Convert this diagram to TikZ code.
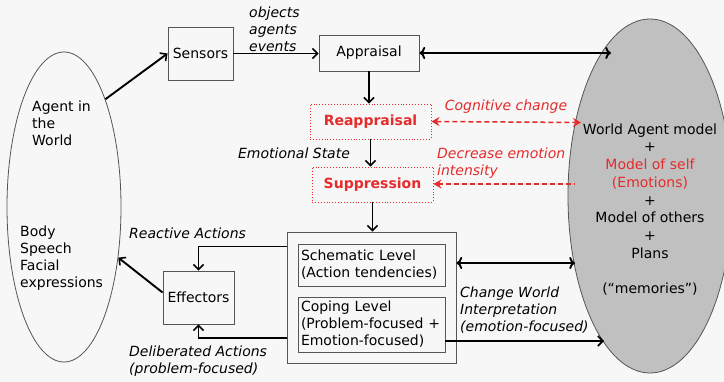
\documentclass[tikz,border=0pt]{standalone}
\usepackage{fontspec}
\setmainfont{DejaVu Sans}
\usepackage{xcolor}
\usetikzlibrary{arrows.meta,positioning,shapes.geometric}
\definecolor{emred}{HTML}{E52B2B}
\definecolor{emgray}{HTML}{C0C0C0}
\definecolor{emline}{HTML}{555555}
\definecolor{embg}{HTML}{F7F7F7}
\tikzset{
  txt/.style={font=\fontsize{14}{17}\selectfont,inner sep=0pt,align=left},
  lbl/.style={txt,font=\fontsize{14}{17}\selectfont\itshape},
  box/.style={txt,draw=emline,line width=0.9pt,align=center},
  redbox/.style={box,draw=emred,dotted,text=emred,font=\fontsize{14}{17}\selectfont\bfseries},
  ar/.style={-{Straight Barb[length=5pt,width=10pt,line width=1.6pt]},line width=1.9pt,draw=black},
  dar/.style={ar,<->},
  redar/.style={{Stealth[length=8pt,width=9pt]}-{Stealth[length=8pt,width=9pt]},draw=emred,line width=1.5pt,dashed,dash pattern=on 5pt off 3pt},
}
\begin{document}
\begin{tikzpicture}[x=1pt,y=-1pt]
  \clip (0,0) rectangle (724,382);
  \fill[embg] (0,0) rectangle (724,382);
  % the two ellipses
  \node[ellipse,draw=emline,line width=0.8pt,minimum width=114,minimum height=310,inner sep=0pt] (world) at (64,207) {};
  \node[ellipse,draw=emline,fill=emgray,line width=0.8pt,minimum width=164,minimum height=354,inner sep=0pt] (memory) at (650,196) {};
  \node[txt,anchor=west] (agent) at (32,123) {Agent in\\the\\World};
  \node[txt,anchor=west] (body) at (20,258) {Body\\Speech\\Facial\\expressions};
  \node[txt,align=center,font=\fontsize{14}{17.7}\selectfont] (models) at (650,209.5) {World Agent model\\+\\\textcolor{emred}{Model of self}\\\textcolor{emred}{(Emotions)}\\+\\Model of others\\+\\Plans\\ \\(“memories”)};
  % boxes
  \node[box,minimum width=65,minimum height=53] (sensors) at (200.5,53.5) {Sensors};
  \node[box,minimum width=100,minimum height=36] (appraisal) at (369,53) {Appraisal};
  \node[redbox,minimum width=121,minimum height=35] (reappraisal) at (370.5,121.5) {Reappraisal};
  \node[redbox,minimum width=121,minimum height=35] (suppression) at (372.5,184.5) {Suppression};
  \node[box,minimum width=169,minimum height=131] (levels) at (371.5,297.5) {};
  \node[box,align=left,text width=141,minimum width=147,minimum height=42,inner xsep=3pt] (schematic) at (371.5,265) {Schematic Level\\(Action tendencies)};
  \node[box,align=left,text width=141,minimum width=147,minimum height=55,inner xsep=3pt] (coping) at (371.5,324.5) {Coping Level\\(Problem-focused +\\Emotion-focused)};
  \node[box,minimum width=71,minimum height=53] (effectors) at (198.5,297.5) {Effectors};
  % labels
  \node[lbl,anchor=west] (stimuli) at (249,29) {objects\\agents\\events};
  \node[lbl] (emostate) at (294,153) {Emotional State};
  \node[lbl,text=emred] (cogchange) at (506,107) {Cognitive change};
  \node[lbl,text=emred,anchor=west] (decrease) at (437,163.5) {Decrease emotion\\intensity};
  \node[lbl,anchor=west] (reactive) at (129,233) {Reactive Actions};
  \node[lbl,anchor=west] (deliberated) at (129,361.5) {Deliberated Actions\\(problem-focused)};
  \node[lbl,anchor=west] (changeworld) at (460,310) {Change World\\Interpretation\\(emotion-focused)};
  % points where arrows meet the memory ellipse
  \coordinate (memapp) at (611,53);
  \coordinate (memcog) at (581,122.5);
  \coordinate (memsup) at (575,184);
  \coordinate (memsch) at (575,263);
  \coordinate (memcop) at (604,341);
  % connectors
  \draw[ar] (world.69) -- (sensors.west);
  \draw[ar] (sensors.east) -- (appraisal.west |- sensors.east);
  \draw[dar] (appraisal.east) -- (memapp);
  \draw[ar] (appraisal.south) -- (appraisal.south |- reappraisal.north);
  \draw[ar] (reappraisal.south) -- (reappraisal.south |- suppression.north);
  \draw[ar] (suppression.south) -- (suppression.south |- levels.north);
  \draw[redar] (reappraisal.east) -- (memcog);
  \draw[redar,{Stealth[length=8pt,width=9pt]}-] (suppression.east |- memsup) -- (memsup);
  \draw[dar] (memsch -| levels.east) -- (memsch);
  \draw[ar] (coping.east |- memcop) -- (memcop);
  \draw[ar] ([yshift=-15pt]levels.north west) -| (effectors.north);
  \draw[ar] ([yshift=25pt]levels.south west) -| (effectors.south);
  \draw[ar] ([yshift=5pt]effectors.west) -- (world.-43);
\end{tikzpicture}
\end{document}
